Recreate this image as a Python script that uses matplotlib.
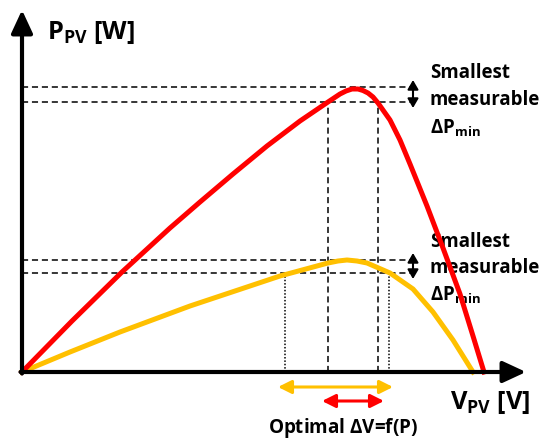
import matplotlib
matplotlib.use("Agg")
import matplotlib.pyplot as plt

plt.rcParams['font.family'] = ['Open Sans', 'DejaVu Sans']
plt.rcParams['mathtext.fontset'] = 'custom'
plt.rcParams['mathtext.rm'] = 'Open Sans'
plt.rcParams['mathtext.bf'] = 'Open Sans:bold'

# P-V curves (arbitrary units)
v_high = [0, 5.0, 10.0, 14.8, 17.8, 21.1, 24.5, 27.8, 30.6, 31.8, 32.4, 33.0, 33.6,
          34.1, 34.6, 35.1, 35.6, 36.8, 37.8, 38.8, 40.5, 42.1, 43.8, 45.1, 46.2]
p_high = [0, 5.1, 10.0, 14.4, 17.0, 19.8, 22.6, 25.1, 27.0, 27.8, 28.1, 28.3, 28.3,
          28.15, 27.9, 27.5, 26.9, 25.2, 23.2, 20.8, 16.6, 12.4, 7.8, 3.6, 0]
v_low = [0, 4.8, 9.8, 16.8, 25.8, 30.6, 31.6, 32.5, 33.5, 34.5, 36.8, 39.1, 41.1,
         43.1, 45.1]
p_low = [0, 2.0, 4.0, 6.6, 9.6, 10.9, 11.1, 11.2, 11.1, 10.9, 9.9, 8.3, 6.0, 3.2, 0]

# power levels (peak and peak - dPmin) and corresponding voltages
lev_high = [28.5, 27.0]
lev_low = [11.2, 9.9]
v_dash = [30.6, 35.6]
v_dot = [26.3, 36.7]
span_low = [25.6, 37.1]
span_high = [30.0, 36.2]

RED = '#FF0000'
GOLD = '#FFC000'

fig = plt.figure(figsize=(5.41, 4.39), dpi=100)
ax = fig.add_axes([0, 0, 1, 1])
ax.set_xlim(-2.2, 51.9)
ax.set_ylim(-6.6, 37.3)
ax.axis('off')

# dashed/dotted helper lines
for lv in lev_high + lev_low:
    ax.plot([0, 38.8], [lv, lv], color='black', lw=1.1, ls=(0, (4, 2.5)), zorder=2)
for vd in v_dash:
    ax.plot([vd, vd], [0, lev_high[1]], color='black', lw=1.1, ls=(0, (4, 2.5)), zorder=2)
for vd in v_dot:
    ax.plot([vd, vd], [0, lev_low[1]], color='black', lw=1.1, ls=(0, (1, 1.2)), zorder=2)

# curves
ax.plot(v_low, p_low, color=GOLD, lw=3.6, solid_joinstyle='round', zorder=3)
ax.plot(v_high, p_high, color=RED, lw=3.6, solid_joinstyle='round', zorder=4)

# axes with arrows
ax_arrow = dict(arrowstyle='-|>,head_length=1.4,head_width=0.65', color='black',
                lw=3, mutation_scale=10, shrinkA=0, shrinkB=0)
ax.annotate('', xy=(0, 36.2), xytext=(0, -0.15), arrowprops=ax_arrow, zorder=5)
ax.annotate('', xy=(50.4, 0), xytext=(-0.15, 0), arrowprops=ax_arrow, zorder=5)

# vertical dPmin arrows
dp_arrow = dict(arrowstyle='<|-|>,head_length=0.55,head_width=0.32', color='black',
                lw=1.5, mutation_scale=10, shrinkA=0, shrinkB=0)
for lv in (lev_high, lev_low):
    ax.annotate('', xy=(39.1, lv[0] + 0.7), xytext=(39.1, lv[1] - 0.6), arrowprops=dp_arrow)

# horizontal dV arrows
ax.annotate('', xy=(span_low[1], -1.5), xytext=(span_low[0], -1.5),
            arrowprops=dict(arrowstyle='<|-|>,head_length=0.8,head_width=0.4', color=GOLD,
                            lw=2.2, mutation_scale=10, shrinkA=0, shrinkB=0))
ax.annotate('', xy=(span_high[1], -2.9), xytext=(span_high[0], -2.9),
            arrowprops=dict(arrowstyle='<|-|>,head_length=0.8,head_width=0.4', color=RED,
                            lw=2.2, mutation_scale=10, shrinkA=0, shrinkB=0))

# labels
ax.text(2.5, 34.0, r'$\mathbf{P_{PV}}$ [W]', fontsize=18.3, fontweight='bold', va='center')
ax.text(42.8, -3.0, r'$\mathbf{V_{PV}}$ [V]', fontsize=18.3, fontweight='bold', va='center')
ax.text(32.1, -5.5, r'Optimal $\mathbf{\Delta}$V=f(P)', fontsize=13.6, fontweight='bold',
        ha='center', va='center')

for ys in ([30.0, 27.3, 24.5], [13.1, 10.5, 7.8]):
    ax.text(40.8, ys[0], 'Smallest', fontsize=13.4, fontweight='bold', va='center')
    ax.text(40.8, ys[1], 'measurable', fontsize=13.4, fontweight='bold', va='center')
    ax.text(40.8, ys[2], r'$\mathbf{\Delta P_{min}}$', fontsize=13.5, fontweight='bold',
            va='center')

fig.savefig('out.png', dpi=100)
